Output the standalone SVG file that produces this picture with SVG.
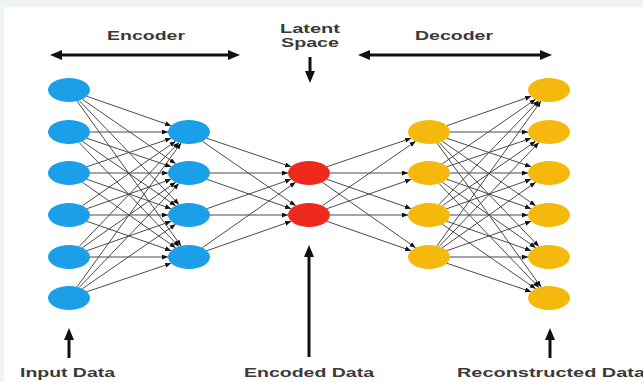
<svg xmlns="http://www.w3.org/2000/svg" width="643" height="382" viewBox="0 0 643 382">
<defs>
<style>
.lbl{font-family:"Liberation Sans",Arial,sans-serif;font-weight:bold;font-size:12px;fill:#3a3a3a;}
.c{stroke:#4d4a4a;stroke-width:1;fill:none;marker-end:url(#sm);}
.big{stroke:#111;stroke-width:3;fill:none;}
.in{fill:#1a9fe8;}
.lat{fill:#ee2a1c;}
.out{fill:#f5b80c;}
</style>
<marker id="sm" markerUnits="userSpaceOnUse" markerWidth="7" markerHeight="6" refX="6" refY="2.5" orient="auto"><path d="M0,0 L6,2.5 L0,5 z" fill="#111"/></marker>
<marker id="bh" markerUnits="userSpaceOnUse" markerWidth="14" markerHeight="12" refX="4" refY="5" orient="auto-start-reverse"><path d="M0,0 L12,5 L0,10 z" fill="#111"/></marker>
</defs>
<rect width="643" height="382" fill="#eef5ee"/>
<rect x="4" y="7" width="639" height="375" fill="#ffffff"/>
<g id="labels">
<text class="lbl" x="146" y="40" text-anchor="middle" textLength="78" lengthAdjust="spacingAndGlyphs">Encoder</text>
<text class="lbl" x="310" y="33" text-anchor="middle" textLength="60" lengthAdjust="spacingAndGlyphs">Latent</text>
<text class="lbl" x="310" y="47" text-anchor="middle" textLength="58" lengthAdjust="spacingAndGlyphs">Space</text>
<text class="lbl" x="454" y="40" text-anchor="middle" textLength="78" lengthAdjust="spacingAndGlyphs">Decoder</text>
<text class="lbl" x="20" y="377" textLength="95" lengthAdjust="spacingAndGlyphs">Input Data</text>
<text class="lbl" x="244" y="377" textLength="130" lengthAdjust="spacingAndGlyphs">Encoded Data</text>
<text class="lbl" x="457" y="377" textLength="188" lengthAdjust="spacingAndGlyphs">Reconstructed Data</text>
</g>
<g id="pointers">
<line class="big" x1="58" y1="55" x2="232" y2="55" marker-start="url(#bh)" marker-end="url(#bh)"/>
<line class="big" x1="366" y1="55" x2="544" y2="55" marker-start="url(#bh)" marker-end="url(#bh)"/>
<line class="big" x1="310" y1="57" x2="310" y2="75" marker-end="url(#bh)"/>
<line class="big" x1="309" y1="357" x2="309" y2="253" marker-end="url(#bh)"/>
<line class="big" x1="69" y1="358" x2="69" y2="336" marker-end="url(#bh)"/>
<line class="big" x1="550" y1="358" x2="550" y2="336" marker-end="url(#bh)"/>
</g>
<g id="connectors">
<path class="c" d="M86.9,96.3 L171.1,125.7"/><path class="c" d="M90,132 L168,132"/><path class="c" d="M86.9,166.7 L171.1,138.3"/><path class="c" d="M82.4,205.7 L175.6,141.3"/><path class="c" d="M79.1,246.5 L178.9,142.5"/><path class="c" d="M77,286.9 L181,143.1"/>
<path class="c" d="M82.4,99.3 L175.6,163.7"/><path class="c" d="M86.9,138.3 L171.1,166.7"/><path class="c" d="M90,173 L168,173"/><path class="c" d="M86.9,208.7 L171.1,179.3"/><path class="c" d="M82.4,247.7 L175.6,182.3"/><path class="c" d="M79.1,287.5 L178.9,183.5"/>
<path class="c" d="M79.1,100.5 L178.9,204.5"/><path class="c" d="M82.4,141.3 L175.6,205.7"/><path class="c" d="M86.9,179.3 L171.1,208.7"/><path class="c" d="M90,215 L168,215"/><path class="c" d="M86.9,250.7 L171.1,221.3"/><path class="c" d="M82.4,288.7 L175.6,224.3"/>
<path class="c" d="M77,101.1 L181,245.9"/><path class="c" d="M79.1,142.5 L178.9,246.5"/><path class="c" d="M82.4,182.3 L175.6,247.7"/><path class="c" d="M86.9,221.3 L171.1,250.7"/><path class="c" d="M90,257 L168,257"/><path class="c" d="M86.9,291.7 L171.1,263.3"/>
<path class="c" d="M206.9,138.3 L291.1,166.7"/><path class="c" d="M210,173 L288,173"/><path class="c" d="M206.9,208.7 L291.1,179.3"/><path class="c" d="M202.4,247.7 L295.6,182.3"/>
<path class="c" d="M202.4,141.3 L295.6,205.7"/><path class="c" d="M206.9,179.3 L291.1,208.7"/><path class="c" d="M210,215 L288,215"/><path class="c" d="M206.9,250.7 L291.1,221.3"/>
<path class="c" d="M326.9,166.7 L411.1,138.3"/><path class="c" d="M330,173 L408,173"/><path class="c" d="M326.9,179.3 L411.1,208.7"/><path class="c" d="M322.4,182.3 L415.6,247.7"/>
<path class="c" d="M322.4,205.7 L415.6,141.3"/><path class="c" d="M326.9,208.7 L411.1,179.3"/><path class="c" d="M330,215 L408,215"/><path class="c" d="M326.9,221.3 L411.1,250.7"/>
<path class="c" d="M446.9,125.7 L531.1,96.3"/><path class="c" d="M450,132 L528,132"/><path class="c" d="M446.9,138.3 L531.1,166.7"/><path class="c" d="M442.4,141.3 L535.6,205.7"/><path class="c" d="M439.1,142.5 L538.9,246.5"/><path class="c" d="M437,143.1 L541,286.9"/>
<path class="c" d="M442.4,163.7 L535.6,99.3"/><path class="c" d="M446.9,166.7 L531.1,138.3"/><path class="c" d="M450,173 L528,173"/><path class="c" d="M446.9,179.3 L531.1,208.7"/><path class="c" d="M442.4,182.3 L535.6,247.7"/><path class="c" d="M439.1,183.5 L538.9,287.5"/>
<path class="c" d="M439.1,204.5 L538.9,100.5"/><path class="c" d="M442.4,205.7 L535.6,141.3"/><path class="c" d="M446.9,208.7 L531.1,179.3"/><path class="c" d="M450,215 L528,215"/><path class="c" d="M446.9,221.3 L531.1,250.7"/><path class="c" d="M442.4,224.3 L535.6,288.7"/>
<path class="c" d="M437,245.9 L541,101.1"/><path class="c" d="M439.1,246.5 L538.9,142.5"/><path class="c" d="M442.4,247.7 L535.6,182.3"/><path class="c" d="M446.9,250.7 L531.1,221.3"/><path class="c" d="M450,257 L528,257"/><path class="c" d="M446.9,263.3 L531.1,291.7"/>
</g>
<g id="in1"><ellipse class="in" cx="69" cy="90" rx="21" ry="12"/></g>
<g id="in2"><ellipse class="in" cx="69" cy="132" rx="21" ry="12"/></g>
<g id="in3"><ellipse class="in" cx="69" cy="173" rx="21" ry="12"/></g>
<g id="in4"><ellipse class="in" cx="69" cy="215" rx="21" ry="12"/></g>
<g id="in5"><ellipse class="in" cx="69" cy="257" rx="21" ry="12"/></g>
<g id="in6"><ellipse class="in" cx="69" cy="298" rx="21" ry="12"/></g>
<g id="enc1"><ellipse class="in" cx="189" cy="132" rx="21" ry="12"/></g>
<g id="enc2"><ellipse class="in" cx="189" cy="173" rx="21" ry="12"/></g>
<g id="enc3"><ellipse class="in" cx="189" cy="215" rx="21" ry="12"/></g>
<g id="enc4"><ellipse class="in" cx="189" cy="257" rx="21" ry="12"/></g>
<g id="lat1"><ellipse class="lat" cx="309" cy="173" rx="21" ry="12"/></g>
<g id="lat2"><ellipse class="lat" cx="309" cy="215" rx="21" ry="12"/></g>
<g id="dec1"><ellipse class="out" cx="429" cy="132" rx="21" ry="12"/></g>
<g id="dec2"><ellipse class="out" cx="429" cy="173" rx="21" ry="12"/></g>
<g id="dec3"><ellipse class="out" cx="429" cy="215" rx="21" ry="12"/></g>
<g id="dec4"><ellipse class="out" cx="429" cy="257" rx="21" ry="12"/></g>
<g id="out1"><ellipse class="out" cx="549" cy="90" rx="21" ry="12"/></g>
<g id="out2"><ellipse class="out" cx="549" cy="132" rx="21" ry="12"/></g>
<g id="out3"><ellipse class="out" cx="549" cy="173" rx="21" ry="12"/></g>
<g id="out4"><ellipse class="out" cx="549" cy="215" rx="21" ry="12"/></g>
<g id="out5"><ellipse class="out" cx="549" cy="257" rx="21" ry="12"/></g>
<g id="out6"><ellipse class="out" cx="549" cy="298" rx="21" ry="12"/></g>
</svg>
